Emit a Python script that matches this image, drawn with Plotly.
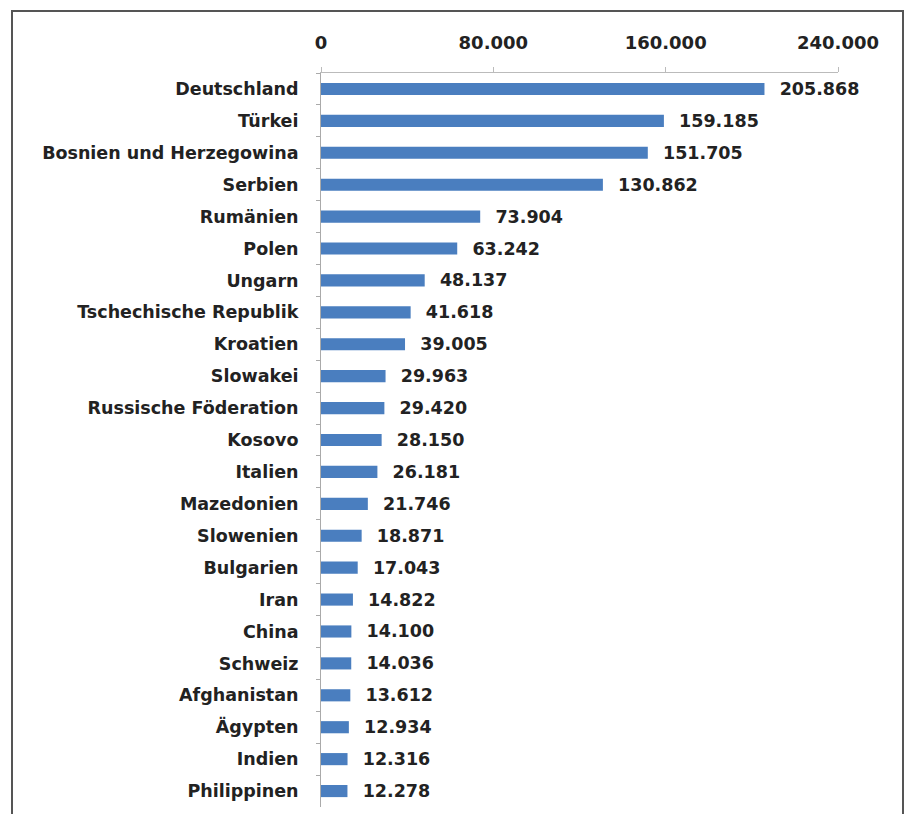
import plotly.graph_objects as go

countries = ["Deutschland", "Türkei", "Bosnien und Herzegowina", "Serbien", "Rumänien",
             "Polen", "Ungarn", "Tschechische Republik", "Kroatien", "Slowakei",
             "Russische Föderation", "Kosovo", "Italien", "Mazedonien", "Slowenien",
             "Bulgarien", "Iran", "China", "Schweiz", "Afghanistan", "Ägypten",
             "Indien", "Philippinen"]
values = [205868, 159185, 151705, 130862, 73904, 63242, 48137, 41618, 39005, 29963,
          29420, 28150, 26181, 21746, 18871, 17043, 14822, 14100, 14036, 13612,
          12934, 12316, 12278]
tick_vals = [0, 80000, 160000, 240000]

FONT = "DejaVu Sans"
TXT = "#222222"
fig = go.Figure(go.Bar(
    x=values, y=countries, orientation="h",
    marker=dict(color="#4A7EBF", line=dict(width=0)),
    texttemplate="\u00a0\u00a0%{x:,d}", textposition="outside",
    constraintext="none", cliponaxis=False,
    textfont=dict(family=FONT, size=17.5, color=TXT, weight="bold"),
    width=0.38,
))

W, H = 908, 814
L, R, T, B = 321, 70, 73, 7
pw, ph = W - L - R, H - T - B

fig.update_layout(
    width=W, height=H,
    margin=dict(l=L, r=R, t=T, b=B, pad=0),
    paper_bgcolor="white", plot_bgcolor="white",
    separators=",.",
    showlegend=False,
    font=dict(family=FONT, size=15, color=TXT),
    xaxis=dict(side="top", range=[0, 240000], tickvals=tick_vals,
               tickformat=",d", showgrid=False, zeroline=False,
               showline=True, linecolor="#BBBBBB", linewidth=1,
               ticks="outside", ticklen=5, tickcolor="#BBBBBB",
               ticklabelstandoff=11,
               tickfont=dict(family=FONT, size=18, color=TXT, weight="bold")),
    yaxis=dict(autorange="reversed", showgrid=False, zeroline=False,
               showline=True, linecolor="#AAAAAA", linewidth=1,
               ticks="outside", ticklen=4, tickcolor="#AAAAAA",
               tickson="boundaries", ticklabelstandoff=18,
               tickfont=dict(family=FONT, size=17.5, color=TXT, weight="bold")),
)

# outer frame
fig.add_shape(type="rect", xref="paper", yref="paper",
              x0=(12 - L) / pw, x1=(903 - L) / pw,
              y0=-(30) / ph, y1=1 + (T - 11) / ph,
              line=dict(color="#555555", width=2), layer="below")

fig.write_html("out.html")
